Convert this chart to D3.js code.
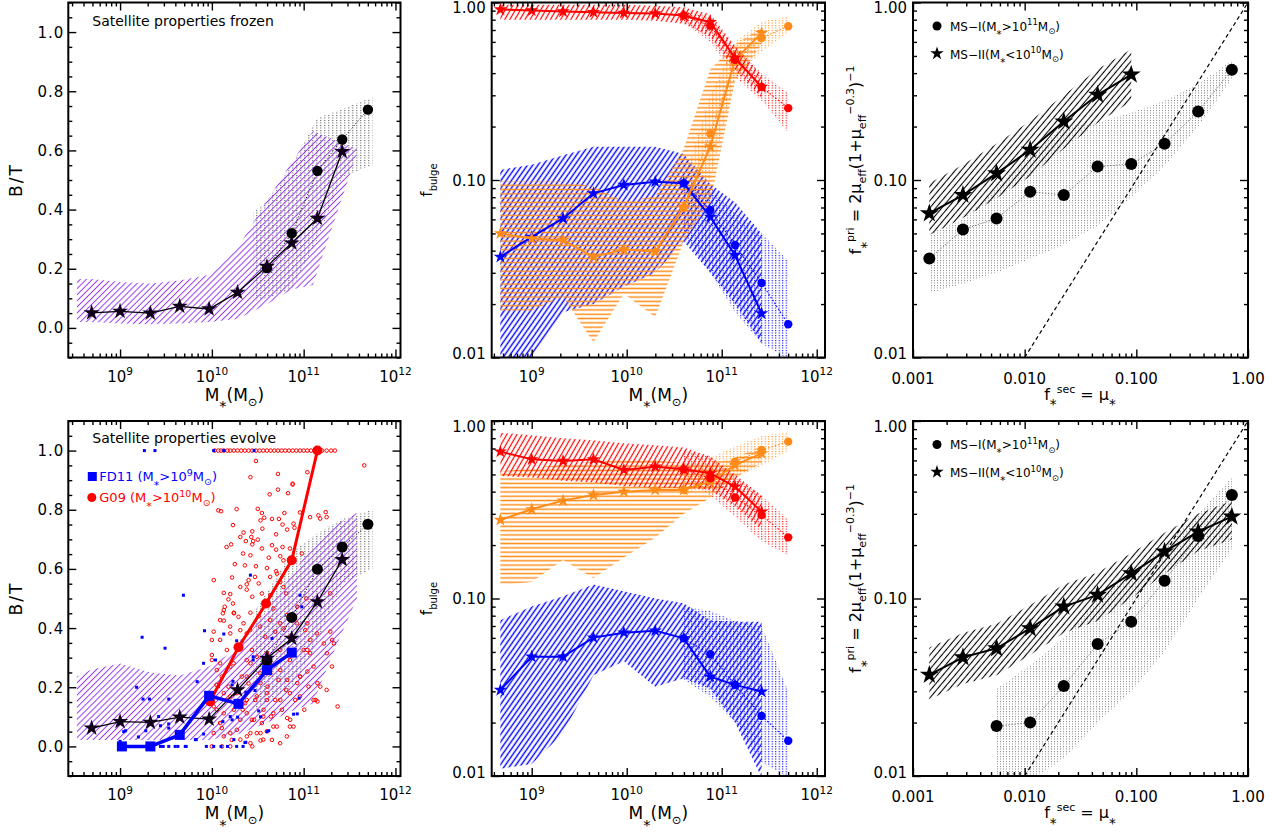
<!DOCTYPE html>
<meta charset="utf-8">
<style>
  body { margin: 0; background: #fff; }
  text { font-family: "DejaVu Sans", "Liberation Sans", sans-serif; fill: #000; }
  .ax line { stroke: #000; stroke-width: 1.4; }
</style>
<body>
<script src="https://d3js.org/d3.v7.min.js"></script>
<script>
// ---------- data: B/T panels (x = log10 M*) ----------
var binsBT = [8.69, 9.0, 9.33, 9.65, 9.97, 10.28, 10.6, 10.87, 11.15, 11.42];
var binsBTcirc = [10.6, 10.87, 11.15, 11.42, 11.7];
var bandBTx = [8.53, 8.69, 9.0, 9.33, 9.65, 9.97, 10.28, 10.6, 10.87, 11.1, 11.3, 11.58];
var dotBTx = [10.45, 10.6, 10.87, 11.15, 11.42, 11.75];

var frozenStar = [0.051, 0.056, 0.05, 0.073, 0.064, 0.12, 0.208, 0.287, 0.37, 0.596];
var frozenCirc = [0.202, 0.32, 0.531, 0.637, 0.738];
var frozenBandHi = [0.165, 0.165, 0.155, 0.15, 0.16, 0.18, 0.27, 0.43, 0.56, 0.665, 0.64, 0.605];
var frozenBandLo = [0.02, 0.02, 0.015, 0.012, 0.015, 0.02, 0.03, 0.08, 0.13, 0.145, 0.33, 0.59];
var frozenDotHi = [0.39, 0.43, 0.55, 0.71, 0.74, 0.78];
var frozenDotLo = [0.09, 0.1, 0.13, 0.3, 0.51, 0.55];

var evolveStar = [0.062, 0.084, 0.081, 0.099, 0.092, 0.191, 0.298, 0.365, 0.489, 0.631];
var evolveCirc = [0.29, 0.436, 0.599, 0.674, 0.751];
var evolveBandHi = [0.236, 0.26, 0.28, 0.25, 0.24, 0.27, 0.33, 0.46, 0.58, 0.68, 0.74, 0.79];
var evolveBandLo = [0.022, 0.022, 0.022, 0.022, 0.022, 0.022, 0.04, 0.08, 0.12, 0.145, 0.3, 0.5];
var evolveDotHi = [0.45, 0.52, 0.66, 0.72, 0.77, 0.8];
var evolveDotLo = [0.12, 0.15, 0.2, 0.35, 0.55, 0.6];

var g09M = [9.98, 10.29, 10.59, 10.87, 11.15];
var g09BT = [0.152, 0.335, 0.483, 0.629, 1.0];
var fd11M = [9.02, 9.33, 9.65, 9.97, 10.29, 10.6, 10.87];
var fd11BT = [0, 0, 0.039, 0.171, 0.144, 0.258, 0.317];

// individual galaxies [log10 M*, B/T]
var g09Gal = [
  [10.03,1],[10.07,1],[10.1,1],[10.13,1],[10.17,1],[10.2,1],[10.24,1],[10.28,1],[10.32,1],[10.36,1],[10.4,1],
  [10.44,1],[10.48,1],[10.52,1],[10.56,1],[10.6,1],[10.64,1],[10.68,1],[10.72,1],[10.76,1],[10.8,1],[10.84,1],
  [10.88,1],[10.92,1],[10.96,1],[11.0,1],[11.04,1],[11.08,1],[11.12,1],[11.2,1],[11.25,1],[11.3,1],[11.34,1],
  [10.48,0.965],[10.72,0.921],[11.04,0.927],[10.88,0.888],[10.42,0.91],[10.63,0.852],[10.72,0.868],[10.83,0.856],
  [10.10,0.795],[10.27,0.802],[10.50,0.803],[10.545,0.789],[10.57,0.773],[10.53,0.764],[10.655,0.769],[10.73,0.769],
  [10.79,0.789],[10.96,0.791],[11.24,0.792],[10.23,0.748],[10.345,0.723],[10.44,0.727],[10.55,0.736],[10.70,0.717],
  [10.82,0.733],[10.90,0.739],[10.31,0.708],[10.43,0.708],[10.45,0.694],[10.50,0.699],[10.37,0.694],[10.21,0.683],
  [10.16,0.674],[10.44,0.683],[10.545,0.669],[10.655,0.68],[10.70,0.665],[10.77,0.674],[10.85,0.669],[10.34,0.652],
  [10.42,0.646],[10.62,0.638],[10.745,0.643],[10.78,0.629],[10.25,0.616],[10.36,0.612],[10.48,0.609],[10.60,0.603],
  [10.70,0.592],[10.02,0.562],[10.22,0.571],[10.40,0.562],[10.47,0.573],[10.51,0.551],[10.38,0.548],[10.635,0.573],
  [10.71,0.584],[10.745,0.556],[10.13,0.519],[10.20,0.515],[10.18,0.497],[10.23,0.483],[10.14,0.472],[10.12,0.45],
  [10.24,0.45],[10.31,0.539],[10.38,0.53],[10.44,0.506],[10.545,0.517],[10.635,0.511],[10.78,0.539],[10.81,0.517],
  [10.13,0.461],[10.24,0.452],[10.42,0.452],[10.51,0.44],[10.67,0.466],[10.745,0.416],[10.82,0.444],[10.93,0.472],
  [10.02,0.388],[10.13,0.425],[10.20,0.382],[10.31,0.393],[10.38,0.382],[10.09,0.36],[10.00,0.36],[10.0,0.309],
  [10.09,0.281],[10.20,0.27],[10.38,0.292],[10.42,0.281],[10.49,0.303],[10.60,0.315],[10.745,0.326],[10.85,0.292],
  [11.0,0.326],[11.07,0.315],[11.22,0.348],[11.33,0.348],[10.635,0.247],[10.745,0.258],[10.82,0.225],[10.93,0.214],
  [11.04,0.253],[11.15,0.214],[11.25,0.191],[10.13,0.18],[10.20,0.169],[10.38,0.157],[10.49,0.169],[10.60,0.18],
  [10.745,0.157],[10.85,0.18],[10.96,0.169],[11.13,0.157],[10.02,0.135],[10.13,0.112],[10.24,0.124],[10.38,0.112],
  [10.46,0.09],[10.56,0.101],[10.67,0.112],[10.82,0.096],[10.85,0.067],[10.02,0.045],[10.13,0.034],[10.20,0.045],
  [10.31,0.023],[10.42,0.045],[10.53,0.045],[10.56,0.023],[10.0,0.0],[10.11,0.0],[10.2,0.0],[10.44,0.0],
  [11.66,0.95],[11.37,0.135],[11.29,0.388],[11.31,0.36],[11.15,0.152],[11.16,0.781],[10.88,0.885],[10.07,0.798],
  [10.05,0.208],[10.38,0.236],[10.53,0.214],[10.6,0.157],[10.09,0.079],[10.31,0.09],[10.67,0.067],[10.42,0.011],
  [10.53,0.02],[10.98,0.652],[11.07,0.775],[11.18,0.77],[11.25,0.775],[11.29,0.517],[11.03,0.5],[10.89,0.753],
  [10.77,0.75],[11.04,0.416],[11.04,0.326],[10.96,0.236],
  [10.0,0.292],[10.054,0.258],[10.108,0.236],[10.163,0.326],[10.181,0.202],[10.236,0.281],[10.272,0.18],
  [10.326,0.236],[10.363,0.146],[10.399,0.213],[10.436,0.326],[10.472,0.157],[10.526,0.247],[10.563,0.124],
  [10.606,0.202],[10.643,0.101],[10.69,0.157],[10.726,0.225],[10.763,0.124],[10.81,0.191],[10.853,0.09],
  [10.908,0.157],[10.963,0.236],[11.006,0.124],[11.053,0.202],[11.108,0.27],[10.054,0.124],[10.108,0.062],
  [10.163,0.157],[10.217,0.022],[10.272,0.056],[10.337,0.124],[10.381,0.034],[10.436,0.09],[10.49,0.045],
  [10.545,0.079],[10.599,0.051],[10.654,0.022],[10.708,0.067],[10.744,0.011],[10.817,0.034],[10.89,0.067],
  [10.09,0.427],[10.199,0.405],[10.29,0.438],[10.345,0.416],[10.417,0.393],[10.526,0.405],[10.581,0.371],
  [10.635,0.427],[10.69,0.388],[10.781,0.399],[10.854,0.371],[10.926,0.416],[11.017,0.393],[11.072,0.36],
  [11.144,0.382],[11.253,0.315],[11.308,0.27],[11.108,0.157],[11.181,0.202]
];
var fd11Gal = [
  [9.265,1],[9.38,1],[10.02,1],[10.13,1],[10.46,1],[11.17,1],[9.69,0.511],[9.24,0.369],[9.49,0.332],[9.92,0.391],
  [10.13,0.38],[10.33,0.356],[10.42,0.579],[10.96,0.511],[10.98,0.472],[10.62,0.481],[9.18,0.2],[9.25,0.16],[9.32,0.16],
  [9.53,0.16],[9.84,0.219],[9.91,0.281],[9.04,0.05],[9.28,0.053],[9.42,0.101],[9.0,0.017],[9.2,0.032],[9.44,0],[9.47,0],
  [9.53,0],[9.6,0],[9.63,0],[9.71,0],[9.44,0.07],[9.53,0.076],[9.53,0.062],[9.65,0.095],[9.82,0.023],[10.02,0],[10.1,0],
  [10.17,0],[10.27,0],[10.36,0.013],[10.12,0.084],[10.2,0.101],[10.07,0.202],[10.23,0.22],[10.37,0.183],[10.45,0.303],
  [10.6,0.05],[10.655,0.365],[10.93,0.11],[10.95,0.163],[10.04,0.292],[10.27,0.357],[10.45,0.292],[10.22,0.208],
  [10.47,0.189],[10.89,0.109],[10.62,0.053],[10.51,0.12],[10.53,0.1],[10.28,0.099],[10.22,0.09],[9.91,0.042],
  [9.83,0.023],[10.24,0.023],[10.37,0.014],[9.72,0],[9.94,0],[10.34,0],[9.06,0.053]
];

// ---------- data: f_bulge panels ----------
var binsF = [8.67, 9.0, 9.33, 9.65, 9.97, 10.3, 10.6, 10.88, 11.14, 11.42];
var binsFcirc = [10.6, 10.88, 11.14, 11.42, 11.7];

var fzRed = [0.913, 0.901, 0.89, 0.882, 0.874, 0.867, 0.845, 0.774, 0.487, 0.334];
var fzRedCirc = [0.845, 0.74, 0.476, 0.334, 0.254];
var fzRedHi = [0.97, 0.97, 0.97, 0.97, 0.97, 0.96, 0.94, 0.86, 0.57, 0.39];
var fzRedLo = [0.80, 0.80, 0.80, 0.80, 0.80, 0.79, 0.76, 0.64, 0.42, 0.29];
var fzRedDotHi = [0.90, 0.82, 0.56, 0.40, 0.31];
var fzRedDotLo = [0.78, 0.60, 0.38, 0.28, 0.185];
var fzOrange = [0.050, 0.0468, 0.0458, 0.0369, 0.0406, 0.0394, 0.0707, 0.154, 0.476, 0.674];
var fzOrangeCirc = [0.07, 0.183, 0.466, 0.631, 0.735];
var fzOrangeHi = [0.098, 0.098, 0.098, 0.092, 0.076, 0.081, 0.15, 0.42, 0.58, 0.72];
var fzOrangeLo = [0.0184, 0.0184, 0.022, 0.0122, 0.0229, 0.0169, 0.045, 0.075, 0.36, 0.58];
var fzOrangeDotHi = [0.1, 0.3, 0.6, 0.78, 0.84];
var fzOrangeDotLo = [0.05, 0.1, 0.38, 0.53, 0.68];
var fzBlue = [0.0369, 0.0478, 0.0607, 0.0841, 0.0937, 0.0979, 0.0958, 0.062, 0.0377, 0.0177];
var fzBlueCirc = [0.0958, 0.0677, 0.043, 0.0263, 0.0154];
var fzBlueHi = [0.114, 0.122, 0.138, 0.154, 0.154, 0.154, 0.14, 0.095, 0.075, 0.05];
var fzBlueLo = [0.0098, 0.0098, 0.018, 0.02, 0.025, 0.03, 0.045, 0.03, 0.02, 0.012];
var fzBlueDotHi = [0.1, 0.09, 0.065, 0.05, 0.035];
var fzBlueDotLo = [0.05, 0.03, 0.018, 0.012, 0.0098];

var evRed = [0.672, 0.608, 0.595, 0.608, 0.53, 0.553, 0.534, 0.507, 0.427, 0.308];
var evRedCirc = [0.534, 0.475, 0.371, 0.295, 0.221];
var evRedHi = [0.86, 0.83, 0.80, 0.78, 0.75, 0.73, 0.71, 0.63, 0.50, 0.38];
var evRedLo = [0.49, 0.48, 0.46, 0.45, 0.43, 0.42, 0.42, 0.41, 0.33, 0.245];
var evRedDotHi = [0.68, 0.63, 0.48, 0.38, 0.28];
var evRedDotLo = [0.46, 0.38, 0.29, 0.21, 0.175];
var evOrange = [0.277, 0.318, 0.356, 0.383, 0.40, 0.409, 0.409, 0.455, 0.565, 0.657];
var evOrangeCirc = [0.41, 0.475, 0.59, 0.686, 0.765];
var evOrangeHi = [0.52, 0.54, 0.57, 0.59, 0.6, 0.6, 0.58, 0.58, 0.62, 0.72];
var evOrangeLo = [0.119, 0.124, 0.165, 0.13, 0.17, 0.22, 0.3, 0.37, 0.48, 0.58];
var evOrangeDotHi = [0.58, 0.62, 0.72, 0.82, 0.87];
var evOrangeDotLo = [0.38, 0.43, 0.48, 0.56, 0.68];
var evBlue = [0.0305, 0.047, 0.047, 0.0602, 0.0642, 0.0659, 0.0596, 0.0363, 0.0326, 0.0299];
var evBlueCirc = [0.0596, 0.0485, 0.0326, 0.0218, 0.0158];
var evBlueHi = [0.0755, 0.09, 0.103, 0.12, 0.11, 0.1, 0.094, 0.0755, 0.074, 0.074];
var evBlueLo = [0.011, 0.0117, 0.0174, 0.037, 0.0443, 0.0318, 0.0355, 0.031, 0.02, 0.0098];
var evBlueDotHi = [0.09, 0.085, 0.075, 0.07, 0.03];
var evBlueDotLo = [0.035, 0.028, 0.02, 0.012, 0.0098];

// ---------- data: f*pri vs f*sec panels ----------
var fsecStar = [0.0014, 0.0028, 0.0056, 0.0112, 0.0224, 0.045, 0.09];
var fsecAll = [0.0014, 0.0028, 0.0056, 0.0112, 0.0224, 0.045, 0.09, 0.179, 0.358, 0.717];
var fsecCircEv = [0.0056, 0.0112, 0.0224, 0.045, 0.09, 0.179, 0.358, 0.717];

var fpStarFz = [0.0648, 0.0823, 0.109, 0.1477, 0.2136, 0.302, 0.392];
var fpStarFzHi = [0.096, 0.122, 0.16, 0.215, 0.30, 0.42, 0.545];
var fpStarFzLo = [0.049, 0.061, 0.079, 0.105, 0.15, 0.21, 0.277];
var fpCircFz = [0.0361, 0.0526, 0.0607, 0.0859, 0.0823, 0.119, 0.123, 0.16, 0.243, 0.418];
var fpCircFzHi = [0.05, 0.06, 0.09, 0.14, 0.2, 0.21, 0.24, 0.28, 0.35, 0.47];
var fpCircFzLo = [0.023, 0.026, 0.03, 0.036, 0.043, 0.055, 0.08, 0.12, 0.2, 0.37];

var fpStarEv = [0.0371, 0.0466, 0.0524, 0.0679, 0.09, 0.1047, 0.1386, 0.1835, 0.238, 0.289];
var fpStarEvHi = [0.053, 0.064, 0.072, 0.092, 0.12, 0.14, 0.18, 0.235, 0.30, 0.355];
var fpStarEvLo = [0.027, 0.033, 0.037, 0.048, 0.064, 0.075, 0.1, 0.138, 0.185, 0.215];
var fpCircEv = [0.0191, 0.020, 0.0321, 0.0554, 0.074, 0.126, 0.225, 0.383];
var fpCircEvHi = [0.031, 0.042, 0.06, 0.1, 0.14, 0.2, 0.3, 0.48];
var fpCircEvLo = [0.0095, 0.0095, 0.0125, 0.02, 0.03, 0.05, 0.1, 0.19];

var oneToOne = [0.01, 1];

// ---------- drawing ----------
var RED = "#ff0000", ORANGE = "#ff8c1a", BLUE = "#0000ff", PURPLE = "#9438f2";
var svg = d3.select("body").append("svg").attr("width", 1272).attr("height", 833);
var defs = svg.append("defs");
var nClip = 0;

function hatch(id, color, gap, angle, width) {
  var p = defs.append("pattern").attr("id", id).attr("patternUnits", "userSpaceOnUse")
    .attr("width", 16).attr("height", gap).attr("patternTransform", "rotate(" + angle + ")");
  p.append("line").attr("x1", 0).attr("x2", 16).attr("y1", gap / 2).attr("y2", gap / 2)
    .attr("stroke", color).attr("stroke-width", width);
}
function dots(id, color, w, h, s) {
  var p = defs.append("pattern").attr("id", id).attr("patternUnits", "userSpaceOnUse")
    .attr("width", w).attr("height", h);
  p.append("rect").attr("width", s).attr("height", s).attr("fill", color);
}
hatch("hPurple", PURPLE, 4.3, -45, 1.0);
hatch("hRed", RED, 4.4, -60, 1.2);
hatch("hOrange", ORANGE, 4.3, 0, 1.5);
hatch("hBlue", BLUE, 4.3, -55, 1.4);
hatch("hBlack", "#000", 4.6, -50, 1.1);
dots("dGray", "#444", 4, 2.5, 1);
dots("dGrayR", "#888", 3, 2.5, 1);
dots("dRed", RED, 3.5, 2.5, 1.1);
dots("dOrange", ORANGE, 3.5, 2.5, 1.1);
dots("dBlue", BLUE, 3.5, 2.5, 1.1);

function panel(o) {
  var w = o.right - o.left, h = o.bottom - o.top;
  var g = svg.append("g").attr("transform", "translate(" + o.left + "," + o.top + ")");
  var x = d3.scaleLog().domain(o.xd).range([0, w]);
  var y = (o.ylog ? d3.scaleLog() : d3.scaleLinear()).domain(o.yd).range([h, 0]);
  var id = "clip" + (nClip++);
  g.append("clipPath").attr("id", id).append("rect").attr("width", w).attr("height", h);
  var plot = g.append("g").attr("clip-path", "url(#" + id + ")");
  var X = o.mass ? function(v) { return x(Math.pow(10, v)); } : function(v) { return x(v); };
  return { g: g, plot: plot, x: x, y: y, X: X, w: w, h: h, o: o };
}

function logMinor(lo, hi) {
  var r = [];
  for (var e = Math.floor(Math.log10(lo)); e <= Math.ceil(Math.log10(hi)); e++)
    for (var k = 2; k <= 9; k++) { var v = k * Math.pow(10, e); if (v > lo && v < hi) r.push(v); }
  return r;
}

function frame(p, xMaj, xMin, yMaj, yMin) {
  var a = p.g.append("g").attr("class", "ax");
  function put(axis, vals, len, t) {
    a.append("g").attr("transform", t)
      .call(axis.tickValues(vals).tickSize(-len).tickFormat(""))
      .call(function(s) { s.select(".domain").remove(); });
  }
  put(d3.axisBottom(p.x), xMaj, 8, "translate(0," + p.h + ")");
  put(d3.axisBottom(p.x), xMin, 4, "translate(0," + p.h + ")");
  put(d3.axisTop(p.x), xMaj, 8, "translate(0,0)");
  put(d3.axisTop(p.x), xMin, 4, "translate(0,0)");
  put(d3.axisLeft(p.y), yMaj, 8, "translate(0,0)");
  put(d3.axisLeft(p.y), yMin, 4, "translate(0,0)");
  put(d3.axisRight(p.y), yMaj, 8, "translate(" + p.w + ",0)");
  put(d3.axisRight(p.y), yMin, 4, "translate(" + p.w + ",0)");
  p.g.append("rect").attr("width", p.w).attr("height", p.h)
    .attr("fill", "none").attr("stroke", "#000").attr("stroke-width", 2);
}

// text with sub/superscripts: parts = [[text, "n"|"sub"|"sup"|"ast"], ...]
function rich(t, parts, base, small) {
  var cur = 0;
  parts.forEach(function(d) {
    var k = d[1];
    var off = k === "sup" ? -base * 0.42 : k === "sub" ? base * 0.32 : k === "ast" ? base * 0.62 : 0;
    var fs = k === "n" ? base : k === "ast" ? base * 0.85 : small;
    t.append("tspan").attr("dy", off - cur).attr("font-size", fs).text(d[0]);
    cur = off;
  });
  return t;
}

function band(p, xs, lo, hi, fill) {
  var data = xs.map(function(v, i) { return { x: v, lo: lo[i], hi: hi[i] }; });
  p.plot.append("path").datum(data).attr("fill", fill)
    .attr("d", d3.area().x(function(d) { return p.X(d.x); })
      .y0(function(d) { return p.y(d.lo); }).y1(function(d) { return p.y(d.hi); }));
}
function line(p, xs, ys, color, width, dash) {
  p.plot.append("path").datum(xs.map(function(v, i) { return [v, ys[i]]; }))
    .attr("fill", "none").attr("stroke", color).attr("stroke-width", width)
    .attr("stroke-dasharray", dash || null)
    .attr("d", d3.line().x(function(d) { return p.X(d[0]); }).y(function(d) { return p.y(d[1]); }));
}
function stars(p, xs, ys, r, color) {
  var d = d3.symbol(d3.symbolStar, r * r / 0.8908)();
  p.plot.append("g").selectAll("path").data(xs.map(function(v, i) { return [v, ys[i]]; })).join("path")
    .attr("transform", function(e) { return "translate(" + p.X(e[0]) + "," + p.y(e[1]) + ")"; })
    .attr("d", d).attr("fill", color);
}
function circles(p, xs, ys, r, color) {
  p.plot.append("g").selectAll("circle").data(xs.map(function(v, i) { return [v, ys[i]]; })).join("circle")
    .attr("cx", function(e) { return p.X(e[0]); }).attr("cy", function(e) { return p.y(e[1]); })
    .attr("r", r).attr("fill", color);
}

var massL = [Math.pow(10, 8.436), Math.pow(10, 12.055)];
var massM = [Math.pow(10, 8.579), Math.pow(10, 12.087)];
var massMaj = [1e9, 1e10, 1e11, 1e12];
var btMaj = [0, 0.2, 0.4, 0.6, 0.8, 1.0];
var btMin = d3.range(-0.1, 1.1001, 0.05).filter(function(v) { return Math.abs(v / 0.2 - Math.round(v / 0.2)) > 0.01; });
var fMaj = [0.01, 0.1, 1];
var secMaj = [0.001, 0.01, 0.1, 1];

function massLabels(p) {
  massMaj.forEach(function(v) {
    var t = p.g.append("text").attr("x", p.x(v)).attr("y", p.h + 24).attr("text-anchor", "middle");
    rich(t, [["10", "n"], [String(Math.round(Math.log10(v))), "sup"]], 15, 10.5);
  });
  var t = p.g.append("text").attr("x", p.w / 2).attr("y", p.h + 43).attr("text-anchor", "middle");
  rich(t, [["M", "n"], ["*", "ast"], ["(M", "n"], ["⊙", "sub"], [")", "n"]], 17, 11.5);
}
function btLabels(p) {
  btMaj.forEach(function(v) {
    p.g.append("text").attr("x", -4).attr("y", p.y(v) + 5.5).attr("text-anchor", "end")
      .attr("font-size", 15).attr("letter-spacing", 1).text(v.toFixed(1));
  });
  p.g.append("text").attr("transform", "translate(-46," + (p.h / 2) + ") rotate(-90)")
    .attr("text-anchor", "middle").attr("font-size", 17).attr("letter-spacing", 2).text("B/T");
}
function fLabels(p) {
  var txt = { 0.01: "0.01", 0.1: "0.10", 1: "1.00" }, nudge = { 0.01: -4, 0.1: 0, 1: 5 };
  fMaj.forEach(function(v) {
    p.g.append("text").attr("x", -6).attr("y", p.y(v) + 5.5 + nudge[v]).attr("text-anchor", "end")
      .attr("font-size", 15).text(txt[v]);
  });
}
function rightPanelText(p) {
  var lab = ["0.001", "0.010", "0.100", "1.00"];
  secMaj.forEach(function(v, i) {
    p.g.append("text").attr("x", p.x(v)).attr("y", p.h + 26).attr("text-anchor", "middle")
      .attr("font-size", 15).text(lab[i]);
  });
  var t = p.g.append("text").attr("x", 167).attr("y", p.h + 42).attr("text-anchor", "middle");
  rich(t, [["f", "n"], ["*", "ast"], ["sec", "sup"], [" = ", "n"], ["μ", "n"], ["*", "ast"]], 16, 11);
  var ty = p.g.append("text").attr("transform", "translate(-52," + (p.h / 2 - 20) + ") rotate(-90)")
    .attr("text-anchor", "middle");
  rich(ty, [["f", "n"], ["*", "ast"], ["pri", "sup"], [" = 2μ", "n"], ["eff", "sub"], ["(1+μ", "n"],
    ["eff", "sub"], ["−0.3", "sup"], [")", "n"], ["−1", "sup"]], 16, 11);
  // legend
  p.g.append("circle").attr("cx", 24).attr("cy", 23.5).attr("r", 4.5).attr("fill", "#000");
  p.g.append("path").attr("transform", "translate(24,51)").attr("d", d3.symbol(d3.symbolStar, 50 / 0.8908)());
  var l1 = p.g.append("text").attr("x", 37).attr("y", 28);
  rich(l1, [["MS−I(M", "n"], ["*", "ast"], [">10", "n"], ["11", "sup"], ["M", "n"], ["⊙", "sub"], [")", "n"]], 12, 8.5);
  var l2 = p.g.append("text").attr("x", 37).attr("y", 56);
  rich(l2, [["MS−II(M", "n"], ["*", "ast"], ["<10", "n"], ["10", "sup"], ["M", "n"], ["⊙", "sub"], [")", "n"]], 12, 8.5);
}
function fbulgeTitle(p) {
  var t = p.g.append("text").attr("transform", "translate(-60," + (p.h / 2) + ") rotate(-90)")
    .attr("text-anchor", "middle");
  rich(t, [["f", "n"], ["bulge", "sub"]], 15, 10);
}

var rows = [[2.5, 357.5], [421, 776]];

// ---- panel 1: B/T frozen ----
var p1 = panel({ left: 68.3, right: 400.5, top: rows[0][0], bottom: rows[0][1], xd: massL, yd: [-0.1, 1.1], mass: true });
band(p1, dotBTx, frozenDotLo, frozenDotHi, "url(#dGray)");
band(p1, bandBTx, frozenBandLo, frozenBandHi, "url(#hPurple)");
line(p1, binsBTcirc, frozenCirc, "#000", 1, "1,2");
line(p1, binsBT, frozenStar, "#000", 1.3);
circles(p1, binsBTcirc, frozenCirc, 5.2, "#000");
stars(p1, binsBT, frozenStar, 8.5, "#10001a");
frame(p1, massMaj, logMinor(massL[0], massL[1]), btMaj, btMin);
massLabels(p1); btLabels(p1);
p1.g.append("text").attr("x", 24).attr("y", 23).attr("font-size", 14).text("Satellite properties frozen");

// ---- panel 4: B/T evolve ----
var p4 = panel({ left: 68.3, right: 400.5, top: rows[1][0], bottom: rows[1][1], xd: massL, yd: [-0.1, 1.1], mass: true });
band(p4, dotBTx, evolveDotLo, evolveDotHi, "url(#dGray)");
band(p4, bandBTx, evolveBandLo, evolveBandHi, "url(#hPurple)");
p4.plot.append("g").selectAll("circle").data(g09Gal).join("circle")
  .attr("cx", function(d) { return p4.X(d[0]); }).attr("cy", function(d) { return p4.y(d[1]); })
  .attr("r", 1.8).attr("fill", "none").attr("stroke", RED).attr("stroke-width", 1);
p4.plot.append("g").selectAll("rect").data(fd11Gal).join("rect")
  .attr("x", function(d) { return p4.X(d[0]) - 1.5; }).attr("y", function(d) { return p4.y(d[1]) - 1.5; })
  .attr("width", 3).attr("height", 3).attr("fill", BLUE);
line(p4, binsBTcirc, evolveCirc, "#000", 1, "1,2");
line(p4, binsBT, evolveStar, "#000", 1.3);
circles(p4, binsBTcirc, evolveCirc, 5.5, "#000");
stars(p4, binsBT, evolveStar, 8.5, "#10001a");
line(p4, g09M, g09BT, RED, 3);
circles(p4, g09M, g09BT, 5, RED);
line(p4, fd11M, fd11BT, BLUE, 3.5);
p4.plot.append("g").selectAll("rect").data(fd11M.map(function(v, i) { return [v, fd11BT[i]]; })).join("rect")
  .attr("x", function(d) { return p4.X(d[0]) - 5; }).attr("y", function(d) { return p4.y(d[1]) - 5; })
  .attr("width", 10).attr("height", 10).attr("fill", BLUE);
frame(p4, massMaj, logMinor(massL[0], massL[1]), btMaj, btMin);
massLabels(p4); btLabels(p4);
p4.g.append("text").attr("x", 24).attr("y", 22).attr("font-size", 14).text("Satellite properties evolve");
p4.g.append("rect").attr("x", 19.5).attr("y", 51).attr("width", 9).attr("height", 9).attr("fill", BLUE);
var lf = p4.g.append("text").attr("x", 31).attr("y", 60).style("fill", BLUE);
rich(lf, [["FD11 (M", "n"], ["*", "ast"], [">10", "n"], ["9", "sup"], ["M", "n"], ["⊙", "sub"], [")", "n"]], 13, 9.5);
p4.g.append("circle").attr("cx", 23.5).attr("cy", 76.5).attr("r", 4.5).attr("fill", RED);
var lg = p4.g.append("text").attr("x", 31).attr("y", 81).style("fill", RED);
rich(lg, [["G09 (M", "n"], ["*", "ast"], [">10", "n"], ["10", "sup"], ["M", "n"], ["⊙", "sub"], [")", "n"]], 13, 9.5);

// ---- panels 2 & 5: f_bulge ----
function fbulgePanel(row, s) {
  var p = panel({ left: 491.7, right: 825, top: row[0], bottom: row[1], xd: massM, yd: [0.01, 1], ylog: true, mass: true });
  band(p, binsFcirc, s.rDotLo, s.rDotHi, "url(#dRed)");
  band(p, binsFcirc, s.oDotLo, s.oDotHi, "url(#dOrange)");
  band(p, binsFcirc, s.bDotLo, s.bDotHi, "url(#dBlue)");
  band(p, binsF, s.bLo, s.bHi, "url(#hBlue)");
  band(p, binsF, s.oLo, s.oHi, "url(#hOrange)");
  band(p, binsF, s.rLo, s.rHi, "url(#hRed)");
  [[s.b, s.bC, BLUE], [s.o, s.oC, ORANGE], [s.r, s.rC, RED]].forEach(function(c) {
    line(p, binsFcirc, c[1], c[2], 1.1, "1.5,2");
    line(p, binsF, c[0], c[2], 2);
    circles(p, binsFcirc, c[1], 4.2, c[2]);
    stars(p, binsF, c[0], 7, c[2]);
  });
  frame(p, massMaj, logMinor(massM[0], massM[1]), fMaj, logMinor(0.01, 1));
  massLabels(p); fLabels(p); fbulgeTitle(p);
  return p;
}
fbulgePanel(rows[0], { r: fzRed, rC: fzRedCirc, rHi: fzRedHi, rLo: fzRedLo, rDotHi: fzRedDotHi, rDotLo: fzRedDotLo,
  o: fzOrange, oC: fzOrangeCirc, oHi: fzOrangeHi, oLo: fzOrangeLo, oDotHi: fzOrangeDotHi, oDotLo: fzOrangeDotLo,
  b: fzBlue, bC: fzBlueCirc, bHi: fzBlueHi, bLo: fzBlueLo, bDotHi: fzBlueDotHi, bDotLo: fzBlueDotLo });
fbulgePanel(rows[1], { r: evRed, rC: evRedCirc, rHi: evRedHi, rLo: evRedLo, rDotHi: evRedDotHi, rDotLo: evRedDotLo,
  o: evOrange, oC: evOrangeCirc, oHi: evOrangeHi, oLo: evOrangeLo, oDotHi: evOrangeDotHi, oDotLo: evOrangeDotLo,
  b: evBlue, bC: evBlueCirc, bHi: evBlueHi, bLo: evBlueLo, bDotHi: evBlueDotHi, bDotLo: evBlueDotLo });

// ---- panels 3 & 6: f*pri vs f*sec ----
function fstarPanel(row, s) {
  var p = panel({ left: 913, right: 1248, top: row[0], bottom: row[1], xd: [0.001, 1], yd: [0.01, 1], ylog: true });
  band(p, s.cx, s.cLo, s.cHi, "url(#dGrayR)");
  band(p, s.sx, s.sLo, s.sHi, "url(#hBlack)");
  line(p, oneToOne, oneToOne, "#000", 1.2, "4,3");
  line(p, s.cx, s.c, "#555", 1, "1,2");
  line(p, s.sx, s.s, "#000", 2);
  circles(p, s.cx, s.c, 6, "#000");
  stars(p, s.sx, s.s, 10, "#000");
  frame(p, secMaj, logMinor(0.001, 1), fMaj, logMinor(0.01, 1));
  fLabels(p); rightPanelText(p);
  return p;
}
fstarPanel(rows[0], { sx: fsecStar, s: fpStarFz, sHi: fpStarFzHi, sLo: fpStarFzLo,
  cx: fsecAll, c: fpCircFz, cHi: fpCircFzHi, cLo: fpCircFzLo });
fstarPanel(rows[1], { sx: fsecAll, s: fpStarEv, sHi: fpStarEvHi, sLo: fpStarEvLo,
  cx: fsecCircEv, c: fpCircEv, cHi: fpCircEvHi, cLo: fpCircEvLo });
</script>
